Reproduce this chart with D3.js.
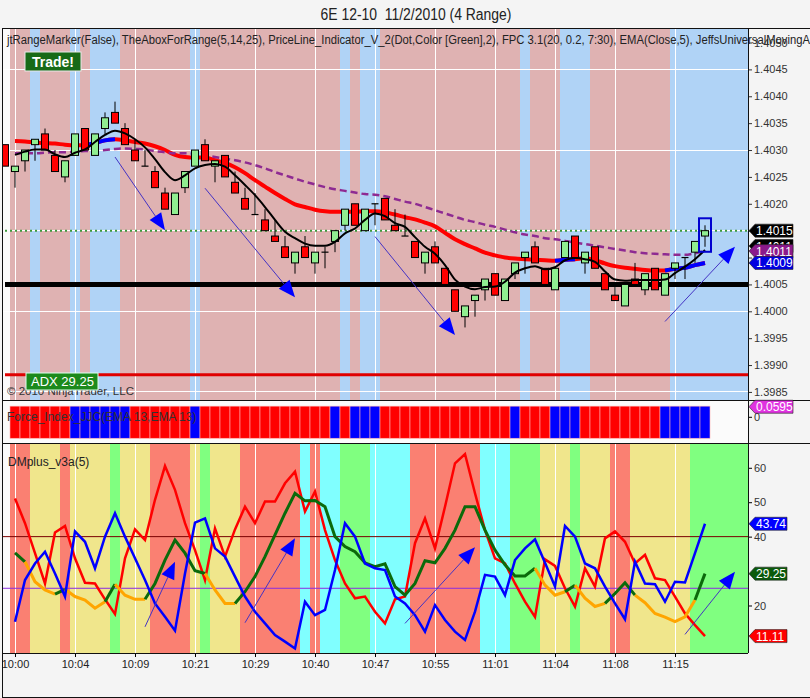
<!DOCTYPE html>
<html>
<head>
<meta charset="utf-8">
<script src="https://d3js.org/d3.v7.min.js"></script>
<style>
  body { margin: 0; background: #f4f4f4; }
  svg { display: block; font-family: "Liberation Sans", Arial, sans-serif; }
</style>
</head>
<body>
<div id="chart"></div>
<script>
// ---- data (bar 0 .. bar 70, 4-tick range bars) ----
const timeLabels = ["10:00","10:04","10:09","10:21","10:29","10:40","10:47","10:55","11:01","11:04","11:08","11:15"];
const labelBars = [1, 7, 13, 19, 25, 31, 37, 43, 49, 55, 61, 67];

const opens = [1.4031,1.4026,1.4028,1.4031,1.4033,1.4029,1.4025,1.4029,1.4034,1.4029,
  1.4034,1.4037,1.4034,1.4030,1.4027,1.4026,1.4022,1.4018,1.4023,1.4027,
  1.4031,1.4027,1.4029,1.4024,1.4021,1.4018,1.4017,1.4014,1.4012,1.4009,
  1.4012,1.4009,1.4011,1.4013,1.4016,1.4020,1.4015,1.4020,1.4021,1.4016,
  1.4014,1.4013,1.4009,1.4012,1.4008,1.4004,1.3999,1.4002,1.4004,1.4007,
  1.4002,1.4007,1.4010,1.4012,1.4008,1.4004,1.4010,1.4014,1.4009,1.4012,
  1.4007,1.4003,1.4001,1.4006,1.4004,1.4008,1.4003,1.4008,1.4010,1.4011,
  1.4014];
const highs = [1.4031,1.4027,1.4030,1.4032,1.4034,1.4030,1.4028,1.4033,1.4034,1.4033,
  1.4037,1.4039,1.4035,1.4032,1.4030,1.4027,1.4023,1.4022,1.4026,1.4030,
  1.4032,1.4028,1.4029,1.4026,1.4023,1.4022,1.4019,1.4017,1.4014,1.4011,
  1.4014,1.4011,1.4012,1.4015,1.4019,1.4020,1.4019,1.4020,1.4021,1.4019,
  1.4018,1.4013,1.4011,1.4013,1.4008,1.4004,1.4001,1.4003,1.4006,1.4007,
  1.4006,1.4009,1.4011,1.4013,1.4008,1.4008,1.4013,1.4014,1.4011,1.4012,
  1.4007,1.4005,1.4005,1.4009,1.4007,1.4008,1.4007,1.4009,1.4010,1.4013,
  1.4016];
const lows = [1.4027,1.4023,1.4026,1.4028,1.4030,1.4026,1.4024,1.4029,1.4030,1.4029,
  1.4033,1.4035,1.4031,1.4028,1.4027,1.4023,1.4019,1.4018,1.4022,1.4027,
  1.4028,1.4024,1.4025,1.4022,1.4019,1.4018,1.4015,1.4013,1.4010,1.4007,
  1.4010,1.4007,1.4008,1.4011,1.4015,1.4016,1.4015,1.4016,1.4017,1.4015,
  1.4014,1.4010,1.4007,1.4009,1.4005,1.4000,1.3997,1.3999,1.4002,1.4003,
  1.4002,1.4006,1.4007,1.4009,1.4005,1.4004,1.4010,1.4010,1.4007,1.4008,
  1.4004,1.4002,1.4001,1.4005,1.4003,1.4004,1.4003,1.4006,1.4006,1.4009,
  1.4012];
const closes = [1.4027,1.4027,1.4030,1.4032,1.4030,1.4026,1.4028,1.4033,1.4030,1.4033,
  1.4036,1.4035,1.4031,1.4028,1.4027,1.4023,1.4019,1.4022,1.4026,1.4030,
  1.4028,1.4028,1.4025,1.4022,1.4019,1.4018,1.4015,1.4013,1.4010,1.4011,
  1.4010,1.4011,1.4011,1.4015,1.4019,1.4016,1.4019,1.4020,1.4017,1.4015,
  1.4014,1.4010,1.4011,1.4009,1.4005,1.4000,1.4001,1.4003,1.4006,1.4003,
  1.4006,1.4009,1.4011,1.4009,1.4005,1.4008,1.4013,1.4010,1.4011,1.4008,
  1.4004,1.4002,1.4005,1.4005,1.4007,1.4004,1.4007,1.4009,1.4010,1.4013,
  1.4015];

// FPC 3.1 line (thick, red / blue when turning up)
const fpcLine = [null,1.40317,1.40316,1.40314,1.40313,1.40312,1.40310,1.40309,1.40309,1.40313,
  1.40318,1.40320,1.40318,1.40315,1.40312,1.40307,1.40300,1.40291,1.40287,1.40286,
  1.40286,1.40281,1.40276,1.40268,1.40257,1.40244,1.40232,1.40220,1.40209,1.40199,
  1.40194,1.40189,1.40186,1.40185,1.40185,1.40185,1.40186,1.40186,1.40184,1.40180,
  1.40175,1.40171,1.40165,1.40158,1.40146,1.40134,1.40125,1.40117,1.40109,1.40104,
  1.40100,1.40098,1.40097,1.40096,1.40095,1.40094,1.40096,1.40097,1.40099,1.40095,
  1.40089,1.40084,1.40081,1.40079,1.40077,1.40076,1.40076,1.40079,1.40081,1.40086,
  1.40090];
const fpcUpBars = [9, 10, 11, 56, 57, 67, 68, 69, 70];

// EMA (purple dashed)
const emaLine = [null,1.40294,1.40294,1.40294,1.40295,1.40296,1.40296,1.40297,1.40298,1.40299,
  1.40300,1.40302,1.40303,1.40302,1.40301,1.40298,1.40296,1.40294,1.40294,1.40293,
  1.40290,1.40287,1.40284,1.40281,1.40277,1.40272,1.40266,1.40259,1.40253,1.40247,
  1.40241,1.40236,1.40231,1.40227,1.40224,1.40221,1.40218,1.40217,1.40214,1.40209,
  1.40204,1.40200,1.40194,1.40188,1.40182,1.40176,1.40170,1.40166,1.40161,1.40157,
  1.40152,1.40147,1.40143,1.40140,1.40136,1.40134,1.40131,1.40128,1.40125,1.40122,
  1.40119,1.40116,1.40113,1.40110,1.40108,1.40107,1.40106,1.40105,1.40105,1.40108,
  1.40112];

// JeffsUniversalMovingAverage (black)
const jeffLine = [null,1.40291,1.40297,1.40301,1.40301,1.40292,1.40287,1.40295,1.40301,1.40315,
  1.40328,1.40336,1.40331,1.40320,1.40305,1.40283,1.40259,1.40244,1.40253,1.40266,
  1.40272,1.40274,1.40269,1.40253,1.40235,1.40216,1.40194,1.40170,1.40148,1.40136,
  1.40126,1.40122,1.40122,1.40129,1.40145,1.40154,1.40170,1.40182,1.40177,1.40164,
  1.40157,1.40138,1.40120,1.40107,1.40086,1.40059,1.40046,1.40041,1.40045,1.40046,
  1.40055,1.40072,1.40080,1.40084,1.40078,1.40082,1.40095,1.40099,1.40097,1.40092,
  1.40074,1.40059,1.40057,1.40058,1.40058,1.40058,1.40059,1.40071,1.40083,1.40097,
  1.40114];

// background colour codes per bar (P pink / B blue; R salmon, Y khaki, G green, C cyan)
const priceBg = ("-PPBPPPBPBBBPPPPPPPBPPPPPPPPPPPPPPBPBBPPPPPPPPPPPPPPBPPPBBBPPPPPPPPBBBB").split("");
const forceBars = ("-RRRRRRBBBBBBRRRRRRBRRRRRRRRRRRRRBRBBBRRRRRRRRRRRRRBRRRBBBRRRRRRRRBBBB").split("");
const forceLast = 0.0595;
const dmBg = ("-RRYYYRYYYYGYYYRRRRYGYYYRRRRRRCRCCGGGCCCCRRRRRRRCCCGGGYYYGYYYRRYYYYYYGG").split("");

// DMplus_v3a(5)
const dmRed = [null,51.1,43.9,35.2,26.4,41.2,43.1,33.7,26.6,26.4,
  21.8,17.5,33.7,42.1,39.0,50.7,60.5,53.6,43.9,36.1,
  27.4,42.4,34.2,42.1,48.7,43.9,50.2,50.2,55.5,58.9,
  47.3,53.1,41.9,33.2,26.4,22.1,22.6,18.2,14.8,21.8,
  22.6,38.1,45.3,36.6,48.7,61.3,64.0,52.6,41.9,33.7,
  32.2,26.4,21.1,16.7,33.4,31.5,25.0,19.7,30.8,25.5,
  39.5,41.5,38.5,32.2,34.7,27.9,27.4,22.6,17.7,14.3,
  11.11];
const dmBlue = [null,15.3,27.4,32.2,35.6,29.3,22.6,41.5,38.5,30.8,
  40.0,46.8,40.0,33.7,27.4,20.6,16.7,12.7,29.3,44.1,
  45.3,36.6,34.2,28.4,22.6,18.2,14.8,11.4,9.5,7.5,
  21.1,17.2,18.7,30.3,43.9,40.0,32.2,30.8,30.3,22.6,
  20.6,17.2,12.4,20.1,15.8,12.4,10.0,18.2,28.9,28.4,
  23.0,33.2,36.6,39.2,32.4,25.5,43.1,40.0,32.2,30.8,
  25.5,20.6,16.0,32.7,26.4,26.2,21.1,26.9,26.7,35.2,
  43.74];
const adx = [null,35.3,32.7,26.9,24.5,23.3,24.7,22.6,21.6,19.2,
  21.1,26.2,23.0,21.8,21.8,26.4,33.2,39.0,35.2,30.1,
  29.3,24.5,20.6,20.6,24.0,28.4,34.2,40.5,46.8,52.6,
  50.4,50.5,48.7,40.0,37.1,35.6,32.4,31.3,32.1,25.5,
  23.0,26.4,33.0,32.4,36.6,41.9,48.7,48.7,41.9,36.1,
  31.8,28.6,28.6,30.8,25.9,23.0,24.0,25.9,22.1,19.7,
  20.6,23.5,26.6,23.0,20.8,17.7,16.6,15.3,16.7,21.6,
  29.25];
const adxState = ("-ggooogoooogoooggggggoooggggggggggggggggggggggggggggggooogooogggoooooogg").split("");
const dmLevels = [40, 25];

// levels and hand drawn arrows [bar, value, bar, value]
const supportLevel = 1.4005;
const lowerLevel = 1.39882;
const priceArrows = [[11, 1.40287, 16, 1.40151], [20, 1.40229, 29, 1.40026], [37, 1.40139, 45, 1.39956], [66, 1.39981, 73, 1.40120]];
const dmArrows = [[14, 13.8, 17, 32.7], [24, 15.0, 29, 39.5], [40, 14.8, 47, 36.9], [68, 11.6, 73, 29.8]];

// ---- layout ----
const W = 810, H = 698;
const left = 2, right = 748;
const priceTop = 28, priceBottom = 400, forceBottom = 443, dmBottom = 653, frameBottom = 697;
const last = closes.length - 1;

const x = d3.scaleLinear().domain([0, last]).range([5, 705]);
const bw = x(1) - x(0);
const yP = d3.scaleLinear().domain([1.39835, 1.40527]).range([priceBottom, priceTop]);
const yF = d3.scaleLinear().domain([-0.155, 0.0994]).range([forceBottom, priceBottom]);
const yD = d3.scaleLinear().domain([6.2, 67.2]).range([dmBottom, forceBottom]);

const bgColor = { P: "#dfb2b2", B: "#b0d3f6", R: "#fa8072", Y: "#f0e68c", G: "#80ff80", C: "#80ffff" };
const f4 = d3.format(".4f"), f2 = d3.format(".2f");

const svg = d3.select("#chart").append("svg").attr("width", W).attr("height", H);

svg.append("text").attr("x", 416).attr("y", 20).attr("text-anchor", "middle")
  .attr("font-size", 16).attr("fill", "#222").attr("textLength", 191).attr("lengthAdjust", "spacingAndGlyphs")
  .style("white-space", "pre").text("6E 12-10  11/2/2010 (4 Range)");

const defs = svg.append("defs");
defs.append("clipPath").attr("id", "clipP").append("rect").attr("x", left).attr("y", priceTop).attr("width", right - left).attr("height", priceBottom - priceTop);
defs.append("clipPath").attr("id", "clipD").append("rect").attr("x", left).attr("y", forceBottom).attr("width", right - left).attr("height", dmBottom - forceBottom);

// plot backgrounds
svg.append("rect").attr("x", left).attr("y", priceTop).attr("width", right - left).attr("height", dmBottom - priceTop).attr("fill", "#fbfbfb");

const bandW = i => i === last ? right - (x(i) - bw / 2) : bw;
svg.append("g").attr("shape-rendering", "crispEdges")
  .selectAll("rect").data(d3.range(1, last + 1)).join("rect")
  .attr("x", i => x(i) - bw / 2).attr("y", priceTop)
  .attr("width", bandW).attr("height", priceBottom - priceTop)
  .attr("fill", i => bgColor[priceBg[i]]);

svg.append("g").attr("shape-rendering", "crispEdges")
  .selectAll("rect").data(d3.range(1, last + 1)).join("rect")
  .attr("x", i => x(i) - bw / 2).attr("y", forceBottom)
  .attr("width", bandW).attr("height", dmBottom - forceBottom)
  .attr("fill", i => bgColor[dmBg[i]]);

// white grid
const grid = svg.append("g").attr("stroke", "#fff").attr("stroke-width", 1).attr("shape-rendering", "crispEdges");
grid.selectAll(".h").data(d3.range(5).map(k => 1.3985 + k * 0.0015)).join("line")
  .attr("x1", left).attr("x2", right).attr("y1", d => yP(d)).attr("y2", d => yP(d));
grid.selectAll(".vp").data(labelBars).join("line")
  .attr("x1", d => x(d)).attr("x2", d => x(d)).attr("y1", priceTop).attr("y2", priceBottom);
grid.selectAll(".vd").data(labelBars).join("line").attr("class", "vd")
  .attr("x1", d => x(d)).attr("x2", d => x(d)).attr("y1", forceBottom).attr("y2", dmBottom);

// ---- price panel ----
const pp = svg.append("g").attr("clip-path", "url(#clipP)");

pp.append("line").attr("x1", left + 3).attr("x2", right).attr("y1", yP(lowerLevel)).attr("y2", yP(lowerLevel))
  .attr("stroke", "#e00000").attr("stroke-width", 3);
pp.append("line").attr("x1", left + 3).attr("x2", right).attr("y1", yP(supportLevel)).attr("y2", yP(supportLevel))
  .attr("stroke", "#000").attr("stroke-width", 5);
pp.append("line").attr("x1", left + 3).attr("x2", right).attr("y1", yP(closes[last])).attr("y2", yP(closes[last]))
  .attr("stroke", "#3c9a3c").attr("stroke-width", 2).attr("stroke-dasharray", "2,3");

const curve = d3.curveMonotoneX;
const lineP = vals => d3.line().defined(i => vals[i] != null).x(i => x(i)).y(i => yP(vals[i])).curve(curve);
const bars = d3.range(0, last + 1);

// coloured runs: segment (i-1,i) takes the colour of point i
function runs(states) {
  const out = [];
  let cur = null;
  for (let i = 2; i <= last; i++) {
    if (!cur || cur.s !== states[i]) { cur = { s: states[i], a: i - 1, b: i }; out.push(cur); }
    else cur.b = i;
  }
  return out;
}

const fpcState = bars.map(i => fpcUpBars.includes(i) ? "u" : "d");
pp.append("path").datum(bars).attr("d", lineP(fpcLine)).attr("fill", "none").attr("stroke", "#ff0000").attr("stroke-width", 4);
runs(fpcState).filter(r => r.s === "u").forEach(r => {
  pp.append("path").datum(d3.range(r.a, r.b + 1)).attr("d", lineP(fpcLine))
    .attr("fill", "none").attr("stroke", "#0000ff").attr("stroke-width", 4);
});

pp.append("path").datum(bars).attr("d", lineP(emaLine)).attr("fill", "none")
  .attr("stroke", "#8e2a92").attr("stroke-width", 2.5).attr("stroke-dasharray", "7,4");

// candles
const candles = pp.append("g").selectAll("g").data(bars).join("g");
candles.append("line").attr("x1", i => x(i)).attr("x2", i => x(i))
  .attr("y1", i => yP(highs[i])).attr("y2", i => yP(lows[i])).attr("stroke", "#000").attr("stroke-width", 1);
candles.filter(i => opens[i] !== closes[i]).append("rect")
  .attr("x", i => x(i) - 3.5).attr("width", 7)
  .attr("y", i => yP(Math.max(opens[i], closes[i])))
  .attr("height", i => Math.abs(yP(opens[i]) - yP(closes[i])))
  .attr("fill", i => closes[i] > opens[i] ? "#90ee90" : "#ff0000")
  .attr("stroke", "#000").attr("stroke-width", 1);
candles.filter(i => opens[i] === closes[i]).append("line")
  .attr("x1", i => x(i) - 3.5).attr("x2", i => x(i) + 3.5)
  .attr("y1", i => yP(closes[i])).attr("y2", i => yP(closes[i])).attr("stroke", "#000").attr("stroke-width", 1.2);

pp.append("path").datum(bars).attr("d", lineP(jeffLine)).attr("fill", "none").attr("stroke", "#000").attr("stroke-width", 2);

// highlight on the last bar
pp.append("rect").attr("x", x(last) - 6).attr("width", 12)
  .attr("y", yP(highs[last]) - 7).attr("height", yP(lows[last]) - yP(highs[last]) + 12)
  .attr("fill", "none").attr("stroke", "#0000d0").attr("stroke-width", 2);

function arrow(g, x1, y1, x2, y2) {
  const dx = x2 - x1, dy = y2 - y1, L = Math.hypot(dx, dy), ux = dx / L, uy = dy / L;
  const bx = x2 - ux * 17, by = y2 - uy * 17, nx = -uy, ny = ux;
  g.append("line").attr("x1", x1).attr("y1", y1).attr("x2", bx).attr("y2", by).attr("stroke", "#4433c4").attr("stroke-width", 1);
  g.append("path").attr("d", `M${x2},${y2}L${bx + nx * 7},${by + ny * 7}L${bx - nx * 7},${by - ny * 7}Z`).attr("fill", "#0000ff");
}
priceArrows.forEach(a => arrow(pp, x(a[0]), yP(a[1]), x(a[2]), yP(a[3])));

// ---- force index panel ----
svg.append("g").selectAll("rect").data(d3.range(1, last + 1)).join("rect")
  .attr("x", i => x(i) - bw / 2).attr("width", bw)
  .attr("y", yF(0.063)).attr("height", yF(-0.127) - yF(0.063))
  .attr("fill", i => forceBars[i] === "R" ? "#ff0000" : "#0000ff")
  .attr("stroke", "#ffb0b0").attr("stroke-width", 0.6);

// ---- DM panel ----
const dp = svg.append("g").attr("clip-path", "url(#clipD)");
dp.append("line").attr("x1", left).attr("x2", right).attr("y1", yD(dmLevels[0])).attr("y2", yD(dmLevels[0])).attr("stroke", "#7a0000").attr("stroke-width", 1);
dp.append("line").attr("x1", left).attr("x2", right).attr("y1", yD(dmLevels[1])).attr("y2", yD(dmLevels[1])).attr("stroke", "#8a2be2").attr("stroke-width", 1);

const lineD = vals => d3.line().defined(i => vals[i] != null).x(i => x(i)).y(i => yD(vals[i]));
dp.append("path").datum(bars).attr("d", lineD(dmRed)).attr("fill", "none").attr("stroke", "#ff0000").attr("stroke-width", 2.5);
runs(adxState).forEach(r => {
  dp.append("path").datum(d3.range(r.a, r.b + 1)).attr("d", lineD(adx)).attr("fill", "none")
    .attr("stroke", r.s === "g" ? "#0b6a0b" : "#ffa500").attr("stroke-width", 3);
});
dp.append("path").datum(bars).attr("d", lineD(dmBlue)).attr("fill", "none").attr("stroke", "#0000ff").attr("stroke-width", 2.5);
dmArrows.forEach(a => arrow(dp, x(a[0]), yD(a[1]), x(a[2]), yD(a[3])));

// ---- axes (labels hidden behind the value tags in the original are left out) ----
const priceTicks = d3.range(14).map(k => +(1.3985 + k * 0.0005).toFixed(4));
const hiddenPrice = [1.4010, 1.4015];
svg.append("g").attr("transform", `translate(${right},0)`)
  .call(d3.axisRight(yP).tickValues(priceTicks).tickFormat(d => hiddenPrice.includes(d) ? "" : f4(d)).tickSize(4).tickPadding(2))
  .call(g => g.select(".domain").remove())
  .call(g => g.selectAll("text").attr("font-size", 11).attr("fill", "#333").attr("font-family", "Liberation Sans, Arial"))
  .call(g => g.selectAll("line").attr("stroke", "#333"));

svg.append("g").attr("transform", `translate(${right},0)`)
  .call(d3.axisRight(yF).tickValues([0]).tickFormat(d3.format("d")).tickSize(4).tickPadding(2))
  .call(g => g.select(".domain").remove())
  .call(g => g.selectAll("text").attr("font-size", 11).attr("fill", "#333").attr("font-family", "Liberation Sans, Arial"));

svg.append("g").attr("transform", `translate(${right},0)`)
  .call(d3.axisRight(yD).tickValues([20, 40, 50, 60]).tickFormat(d3.format("d")).tickSize(4).tickPadding(2))
  .call(g => g.select(".domain").remove())
  .call(g => g.selectAll("text").attr("font-size", 11).attr("fill", "#333").attr("font-family", "Liberation Sans, Arial"));

svg.append("g").attr("transform", `translate(0,${dmBottom})`)
  .call(d3.axisBottom(x).tickValues(labelBars).tickFormat((d, i) => timeLabels[i]).tickSize(4).tickPadding(3))
  .call(g => g.select(".domain").remove())
  .call(g => g.selectAll("text").attr("font-size", 11).attr("fill", "#222").attr("font-family", "Liberation Sans, Arial"));

// ---- frame ----
const frame = svg.append("g").attr("stroke", "#111").attr("stroke-width", 1).attr("shape-rendering", "crispEdges");
[[left, priceTop, W, priceTop], [left, priceBottom, W, priceBottom], [left, forceBottom, W, forceBottom],
 [left, dmBottom, right, dmBottom], [left, frameBottom, W, frameBottom],
 [left, priceTop, left, frameBottom], [right, priceTop, right, dmBottom]]
  .forEach(s => frame.append("line").attr("x1", s[0]).attr("y1", s[1]).attr("x2", s[2]).attr("y2", s[3]));

// ---- value tags on the right axis ----
function tag(y, txt, fill, w) {
  const g = svg.append("g");
  g.append("path").attr("d", `M${right + 1},${y}L${right + 7},${y - 6.5}H${right + 7 + w}V${y + 6.5}H${right + 7}Z`)
    .attr("fill", fill).attr("stroke", "#222").attr("stroke-width", 0.6);
  g.append("text").attr("x", right + 8).attr("y", y + 4.5).attr("font-size", 12).attr("fill", "#fff").text(txt);
}
tag(yP(closes[last]), f4(closes[last]), "#000", 38);
tag(yP(jeffLine[last]) - 4, f4(jeffLine[last]), "#000", 38);
tag(yP(emaLine[last]), f4(emaLine[last]), "#8b1a8b", 38);
tag(yP(fpcLine[last]), f4(fpcLine[last]), "#0000e0", 38);
tag(yF(forceLast), f4(forceLast), "#e033e0", 38);
tag(yD(dmBlue[last]), f2(dmBlue[last]), "#0000ff", 32);
tag(yD(adx[last]), f2(adx[last]), "#0b5a0b", 32);
tag(yD(dmRed[last]), f2(dmRed[last]), "#ff0000", 32);

// ---- panel texts ----
svg.append("text").attr("x", 7).attr("y", 44).attr("font-size", 12).attr("fill", "#222")
  .attr("textLength", 803).attr("lengthAdjust", "spacingAndGlyphs")
  .text("jtRangeMarker(False), TheAboxForRange(5,14,25), PriceLine_Indicator_V_2(Dot,Color [Green],2), FPC 3.1(20, 0.2, 7:30), EMA(Close,5), JeffsUniversalMovingA");

svg.append("rect").attr("x", 25).attr("y", 52).attr("width", 56).attr("height", 19).attr("fill", "#176a17").attr("stroke", "#e8e8e8");
svg.append("text").attr("x", 53).attr("y", 67).attr("text-anchor", "middle").attr("font-size", 14).attr("font-weight", "bold").attr("fill", "#fff").text("Trade!");

svg.append("text").attr("x", 7).attr("y", 395).attr("font-size", 11.5).attr("fill", "#333").text("© 2010 NinjaTrader, LLC");
svg.append("rect").attr("x", 26).attr("y", 373).attr("width", 72).attr("height", 17).attr("fill", "#1c8a1c").attr("stroke", "#dfe");
svg.append("text").attr("x", 31).attr("y", 386).attr("font-size", 13).attr("fill", "#fff").text("ADX " + f2(adx[last]));

svg.append("text").attr("x", 7).attr("y", 421).attr("font-size", 12).attr("fill", "#333")
  .text("Force_Index_JJC(EMA 13,EMA 13)");
svg.append("text").attr("x", 8).attr("y", 466).attr("font-size", 12).attr("fill", "#222").text("DMplus_v3a(5)");
</script>
</body>
</html>
